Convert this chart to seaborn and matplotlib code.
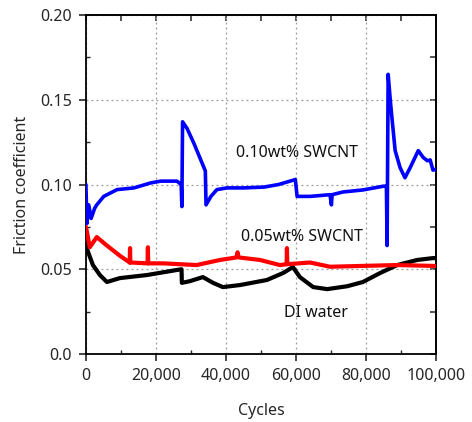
import matplotlib
matplotlib.use("Agg")
import matplotlib.pyplot as plt
import seaborn as sns
import pandas as pd
from matplotlib.ticker import MultipleLocator, FuncFormatter

# ---- data ----
blue_x = [0, 300, 800, 1500, 2500, 3100, 5100, 8900, 13700, 18600, 21400, 26000,
          27200, 27400, 27600, 28900, 30900, 32900, 33700, 34100, 34300, 35700,
          37400, 40300, 45000, 50900, 55000, 59100, 59800, 60300, 64000, 69700,
          70100, 70300, 73400, 79100, 84900, 85800, 86000, 86300, 86900, 87400,
          88300, 89700, 91100, 92600, 94900, 96300, 97500, 98300, 99100, 100000]
blue_y = [0.100, 0.077, 0.088, 0.080, 0.086, 0.088, 0.093, 0.097, 0.098, 0.101, 0.102, 0.102,
          0.100, 0.087, 0.137, 0.133, 0.124, 0.114, 0.110, 0.108, 0.088, 0.093,
          0.097, 0.098, 0.098, 0.0985, 0.100, 0.1025, 0.103, 0.093, 0.093, 0.094,
          0.088, 0.094, 0.0956, 0.0968, 0.099, 0.099, 0.064, 0.165, 0.150, 0.139,
          0.120, 0.110, 0.104, 0.110, 0.120, 0.116, 0.114, 0.1145, 0.1085, 0.109]

red_x = [0, 300, 1100, 3100, 6000, 9700, 12500, 12600, 12700, 17600, 17700, 17800,
         22000, 31600, 38300, 43000, 43300, 43600, 49700, 55400, 57300, 57400, 57500,
         64000, 69700, 79100, 88700, 99100, 100000]
red_y = [0.075, 0.072, 0.063, 0.069, 0.064, 0.058, 0.054, 0.0625, 0.054, 0.0535, 0.063, 0.0535,
         0.0535, 0.0525, 0.0555, 0.057, 0.060, 0.057, 0.0555, 0.0525, 0.053, 0.0625, 0.053,
         0.054, 0.0515, 0.052, 0.0525, 0.052, 0.052]

black_x = [0, 300, 2000, 4000, 6000, 9700, 17400, 26000, 27300, 27400, 29700, 33400,
           36300, 39100, 44000, 51700, 56300, 59100, 61100, 64900, 68900, 74600,
           79100, 84000, 88900, 94600, 99100, 100000]
black_y = [0.066, 0.062, 0.0525, 0.0466, 0.0425, 0.0448, 0.0466, 0.0496, 0.050, 0.042, 0.043, 0.0454,
           0.042, 0.0395, 0.0407, 0.0437, 0.0478, 0.0513, 0.0454, 0.0395, 0.0383, 0.040,
           0.0425, 0.0478, 0.0525, 0.0555, 0.0566, 0.0566]

labels = ["0.10wt% SWCNT", "0.05wt% SWCNT", "DI water"]
label_x = [60300, 61700, 65700]
label_y = [0.1186, 0.069, 0.024]

x_ticks = [0, 20000, 40000, 60000, 80000, 100000]
y_ticks = [0.0, 0.05, 0.10, 0.15, 0.20]

# ---- plotting ----
sns.set_style("ticks")
plt.rcParams['font.family'] = ['Noto Sans', 'DejaVu Sans']

fig = plt.figure(figsize=(4.72, 4.22), dpi=100)
ax = fig.add_axes([0.182, 0.161, 0.742, 0.8035])

df_b = pd.DataFrame({"Cycles": blue_x, "mu": blue_y})
df_r = pd.DataFrame({"Cycles": red_x, "mu": red_y})
df_k = pd.DataFrame({"Cycles": black_x, "mu": black_y})

sns.lineplot(data=df_k, x="Cycles", y="mu", color="black", lw=3, ax=ax, sort=False, zorder=3)
sns.lineplot(data=df_r, x="Cycles", y="mu", color="#ff0000", lw=3, ax=ax, sort=False, zorder=4)
sns.lineplot(data=df_b, x="Cycles", y="mu", color="#0000ff", lw=2.6, ax=ax, sort=False, zorder=5)

for t, tx, ty in zip(labels, label_x, label_y):
    ax.text(tx, ty, t, ha="center", va="center", fontsize=11.5, color="#111111")

ax.set_xlim(0, 100000)
ax.set_ylim(0, 0.20)
ax.set_xticks(x_ticks)
ax.set_yticks(y_ticks)
ax.xaxis.set_minor_locator(MultipleLocator(10000))
ax.yaxis.set_minor_locator(MultipleLocator(0.025))
ax.xaxis.set_major_formatter(FuncFormatter(lambda v, p: f"{int(v):,}"))
ax.yaxis.set_major_formatter(FuncFormatter(lambda v, p: f"{v:.2f}" if v > 0 else "0.0"))

ax.grid(True, which="major", linestyle=(0, (1.5, 2.5)), color="#999999", lw=0.9)
ax.tick_params(which="major", direction="out", length=5, width=1.2, pad=5, labelsize=11.5)
ax.tick_params(which="minor", direction="in", length=3, width=1.0)

# secondary axes for inward ticks on top and right (no labels)
axt = ax.secondary_xaxis("top")
axt.set_xticks([0, 10000, 20000, 30000, 40000, 50000, 60000, 70000, 80000, 90000, 100000])
axt.tick_params(direction="in", length=4, width=1.1, labeltop=False)
axr = ax.secondary_yaxis("right")
axr.set_yticks([0, 0.025, 0.05, 0.075, 0.10, 0.125, 0.15, 0.175, 0.20])
axr.tick_params(direction="in", length=4, width=1.1, labelright=False)

for s in ax.spines.values():
    s.set_linewidth(1.3)
    s.set_color("black")
for a in (axt, axr):
    for s in a.spines.values():
        s.set_linewidth(1.3)

ax.set_xlabel("Cycles", fontsize=11.5, labelpad=14)
ax.set_ylabel("Friction coefficient", fontsize=11.5, labelpad=7)

fig.savefig("out.png", dpi=100)
